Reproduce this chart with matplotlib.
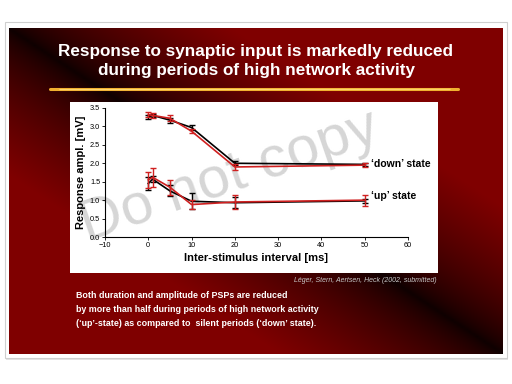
import numpy as np
import matplotlib.pyplot as plt
from matplotlib.patches import Rectangle

plt.rcParams['font.family'] = ['Liberation Sans', 'DejaVu Sans']

# ---- data ----
isi_ms = [0, 1, 5, 10, 20, 50]
down_black = [3.25, 3.30, 3.17, 2.97, 2.00, 1.97]
down_black_err = [0.05, 0.05, 0.07, 0.08, 0.06, 0.05]
down_red = [3.32, 3.30, 3.22, 2.87, 1.90, 1.95]
down_red_err = [0.07, 0.07, 0.08, 0.06, 0.08, 0.05]
up_black = [1.45, 1.57, 1.25, 0.97, 0.93, 0.98]
up_black_err = [0.18, 0.08, 0.15, 0.22, 0.15, 0.05]
up_red = [1.55, 1.62, 1.35, 0.88, 0.95, 1.00]
up_red_err = [0.22, 0.25, 0.20, 0.12, 0.18, 0.15]

x_ticks = [-10, 0, 10, 20, 30, 40, 50, 60]
y_ticks = [0.0, 0.5, 1.0, 1.5, 2.0, 2.5, 3.0, 3.5]

title = "Response to synaptic input is markedly reduced\nduring periods of high network activity"
body = ["Both duration and amplitude of PSPs are reduced",
        "by more than half during periods of high network activity",
        "(\u2018up\u2019-state) as compared to  silent periods (\u2018down\u2019 state)."]
citation = "L\u00e9ger, Stern, Aertsen, Heck (2002, submitted)"

# ---- slide background ----
fig = plt.figure(figsize=(5.12, 3.84), dpi=100)
bg = fig.add_axes([0, 0, 1, 1])
bg.set_xlim(0, 512)
bg.set_ylim(384, 0)
bg.axis('off')

# white card with grey border
bg.add_patch(Rectangle((6, 24), 502, 336, facecolor='#e4e4e4', edgecolor='none'))
bg.add_patch(Rectangle((5, 22), 502, 336, facecolor='white', edgecolor='#cfcfcf', lw=0.8))

# diagonal dark-red gradient (black in top-left and bottom-right corners)
W, H = 200, 140
u = np.linspace(0, 1, W)[None, :]
v = np.linspace(0, 1, H)[:, None]
t = np.clip(np.abs(u - v) * 2.2, 0, 1) ** 0.7
img = np.zeros((H, W, 3))
img[..., 0] = 0.05 + 0.45 * t
bg.imshow(img, extent=(9, 503, 354, 28), aspect='auto', interpolation='bilinear', zorder=1)

bg.text(256, 61, title, color='white', fontsize=12.3, fontweight='bold',
        ha='center', va='center', linespacing=1.35, zorder=3)
# golden brush underline
bg.plot([50, 458], [89, 89], color='#f0b030', lw=2.2, solid_capstyle='round', zorder=3)
bg.plot([60, 450], [89.6, 89.3], color='#ffd870', lw=0.8, zorder=3)

# white panel behind chart
panel = Rectangle((70, 102), 368, 171, facecolor='white', edgecolor='none', zorder=2)
bg.add_patch(panel)

# watermark
wm = bg.text(230, 177, "Do not copy", fontsize=42, color='#d6d6d6',
             family=['Liberation Sans Narrow', 'Liberation Sans'],
             rotation=19, ha='center', va='center', zorder=3)
wm.set_clip_path(panel)

bg.text(437, 281, citation, color='#c8c8c8', fontsize=5, style='italic',
        ha='right', va='center', zorder=3)
for i, line in enumerate(body):
    bg.text(76, 296 + i * 13.5, line, color='white', fontsize=6.4, fontweight='bold',
            ha='left', va='center', zorder=3)

# ---- chart ----
ax = fig.add_axes([105 / 512, 1 - 237 / 384, 303 / 512, 129 / 384])
ax.set_facecolor('none')
ax.set_xlim(-10, 60)
ax.set_ylim(0, 3.5)
for s in ['top', 'right']:
    ax.spines[s].set_visible(False)
ax.spines['left'].set_linewidth(0.8)
ax.spines['bottom'].set_linewidth(0.8)
ax.set_xticks(x_ticks)
ax.set_yticks(y_ticks)
ax.set_yticklabels([f"{y:.1f}" for y in y_ticks])
ax.tick_params(labelsize=5.3, length=2, width=0.6, pad=1.5)

ax.errorbar(isi_ms, down_black, yerr=down_black_err, color='black', lw=1.2,
            capsize=2, elinewidth=1, zorder=4)
ax.errorbar(isi_ms, down_red, yerr=down_red_err, color='#d02020', lw=1.2,
            capsize=2, elinewidth=1, zorder=5)
ax.errorbar(isi_ms, up_black, yerr=up_black_err, color='black', lw=1.2,
            capsize=2, elinewidth=1, zorder=4)
ax.errorbar(isi_ms, up_red, yerr=up_red_err, color='#d02020', lw=1.2,
            capsize=2, elinewidth=1, zorder=5)

ax.set_xlabel("Inter-stimulus interval [ms]", fontsize=8, fontweight='bold', labelpad=3)
ax.set_ylabel("Response ampl. [mV]", fontsize=8, fontweight='bold', labelpad=3)

ax.text(51.5, 1.97, "\u2018down\u2019 state", fontsize=7.5, fontweight='bold',
        va='center', ha='left', clip_on=False)
ax.text(51.5, 1.12, "\u2018up\u2019 state", fontsize=7.5, fontweight='bold',
        va='center', ha='left', clip_on=False)

fig.savefig("out.png", dpi=100)
